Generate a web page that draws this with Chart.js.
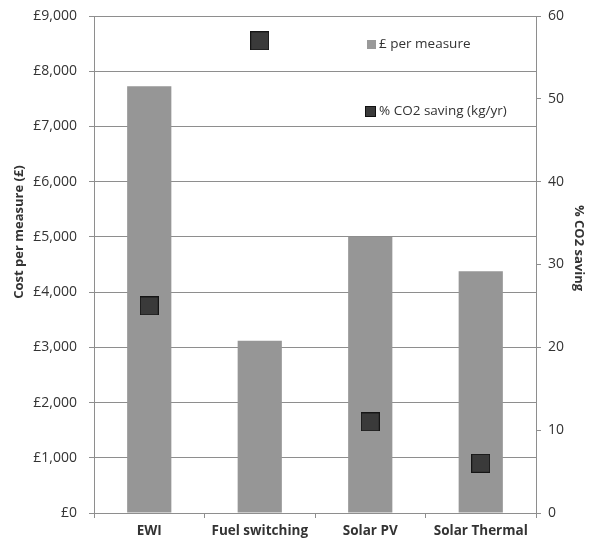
<!DOCTYPE html>
<html>
<head>
<meta charset="utf-8">
<script src="https://cdn.jsdelivr.net/npm/chart.js@4/dist/chart.umd.min.js"></script>
<style>
    html, body { margin: 0; padding: 0; background: #fff; }
    .wrap { position: relative; width: 589px; height: 545px; }
    .legend { position: absolute; font-family: "Open Sans", sans-serif; font-size: 13.5px; color: #333; }
    .legend span.box { display: inline-block; vertical-align: middle; margin-right: 3px; }
</style>
</head>
<body>
<div class="wrap">
    <canvas id="chart" width="589" height="545"></canvas>
    <div class="legend" style="left:367px; top:34px;"><span class="box" style="width:9px;height:9px;background:#999;"></span>£ per measure</div>
    <div class="legend" style="left:365px; top:101px;"><span class="box" style="width:11px;height:11px;background:#3a3a3a;border:0.5px solid #111;box-sizing:border-box;"></span>% CO2 saving (kg/yr)</div>
</div>
<script>
const categories = ["EWI", "Fuel switching", "Solar PV", "Solar Thermal"];
const costPerMeasure = [7730, 3120, 5000, 4380];
const co2Saving = [25, 57, 11, 6];

const costTicks = [0, 1000, 2000, 3000, 4000, 5000, 6000, 7000, 8000, 9000];

const textColor = "#333";
const gridColor = "#8e8e8e";
const fontName = "'Open Sans', sans-serif";

function poundLabel(v) {
    return "£" + v.toLocaleString("en-GB");
}

// square marker as a small canvas, so the point radius doesn't push the layout around
function makeMarker(size) {
    const m = document.createElement("canvas");
    m.width = size;
    m.height = size;
    const mc = m.getContext("2d");
    mc.fillStyle = "#3a3a3a";
    mc.fillRect(0, 0, size, size);
    mc.strokeStyle = "#151515";
    mc.lineWidth = 1;
    mc.strokeRect(0.5, 0.5, size - 1, size - 1);
    return m;
}
const marker = makeMarker(19);

// axis titles sit a bit above the middle in the original, so draw them by hand
const axisTitles = {
    id: "axisTitles",
    afterDraw(chart) {
        const c = chart.ctx;
        c.save();
        c.fillStyle = textColor;
        c.font = "bold 13px " + fontName;
        c.textAlign = "center";
        c.textBaseline = "middle";
        c.translate(19, 232);
        c.rotate(-Math.PI / 2);
        c.fillText("Cost per measure (£)", 0, 0);
        c.restore();

        c.save();
        c.fillStyle = textColor;
        c.font = "bold 13px " + fontName;
        c.textAlign = "center";
        c.textBaseline = "middle";
        c.translate(579, 248);
        c.rotate(Math.PI / 2);
        c.fillText("% CO2 saving", 0, 0);
        c.restore();
    },
};

const ctx = document.getElementById("chart").getContext("2d");
new Chart(ctx, {
    type: "bar",
    data: {
        labels: categories,
        datasets: [
            {
                type: "line",
                label: "% CO2 saving (kg/yr)",
                data: co2Saving,
                yAxisID: "yRight",
                showLine: false,
                borderWidth: 0,
                pointStyle: marker,
                pointRadius: 2,
                pointHoverRadius: 2,
                pointBorderWidth: 0,
                order: 0,
            },
            {
                label: "£ per measure",
                data: costPerMeasure,
                yAxisID: "yLeft",
                backgroundColor: "#969696",
                categoryPercentage: 1,
                barPercentage: 0.4,
                order: 1,
            },
        ],
    },
    options: {
        responsive: false,
        animation: false,
        layout: { padding: { top: 16, left: 0, right: 0, bottom: 0 } },
        plugins: {
            legend: { display: false },
            tooltip: { enabled: false },
        },
        scales: {
            x: {
                offset: true,
                grid: {
                    offset: true,
                    drawOnChartArea: false,
                    tickLength: 5,
                    color: gridColor,
                },
                border: { color: gridColor },
                ticks: {
                    color: textColor,
                    font: { family: fontName, size: 13.5, weight: "bold" },
                    padding: 5,
                },
                afterFit: (scale) => { scale.height = 32; },
            },
            yLeft: {
                position: "left",
                min: 0,
                max: 9000,
                afterBuildTicks: (scale) => {
                    scale.ticks = costTicks.map((v) => ({ value: v }));
                },
                grid: { color: gridColor, tickLength: 5 },
                border: { color: gridColor },
                ticks: {
                    color: textColor,
                    font: { family: fontName, size: 14 },
                    padding: 12,
                    callback: (v) => poundLabel(v),
                },
                afterFit: (scale) => {
                    scale.width = 94;
                    scale.paddingTop = 0;
                    scale.paddingBottom = 0;
                },
            },
            yRight: {
                position: "right",
                min: 0,
                max: 60,
                ticks: {
                    stepSize: 10,
                    color: textColor,
                    font: { family: fontName, size: 14 },
                    padding: 7,
                },
                grid: { drawOnChartArea: false, tickLength: 5, color: gridColor },
                border: { color: gridColor },
                afterFit: (scale) => {
                    scale.width = 53;
                    scale.paddingTop = 0;
                    scale.paddingBottom = 0;
                },
            },
        },
    },
    plugins: [axisTitles],
});
</script>
</body>
</html>
